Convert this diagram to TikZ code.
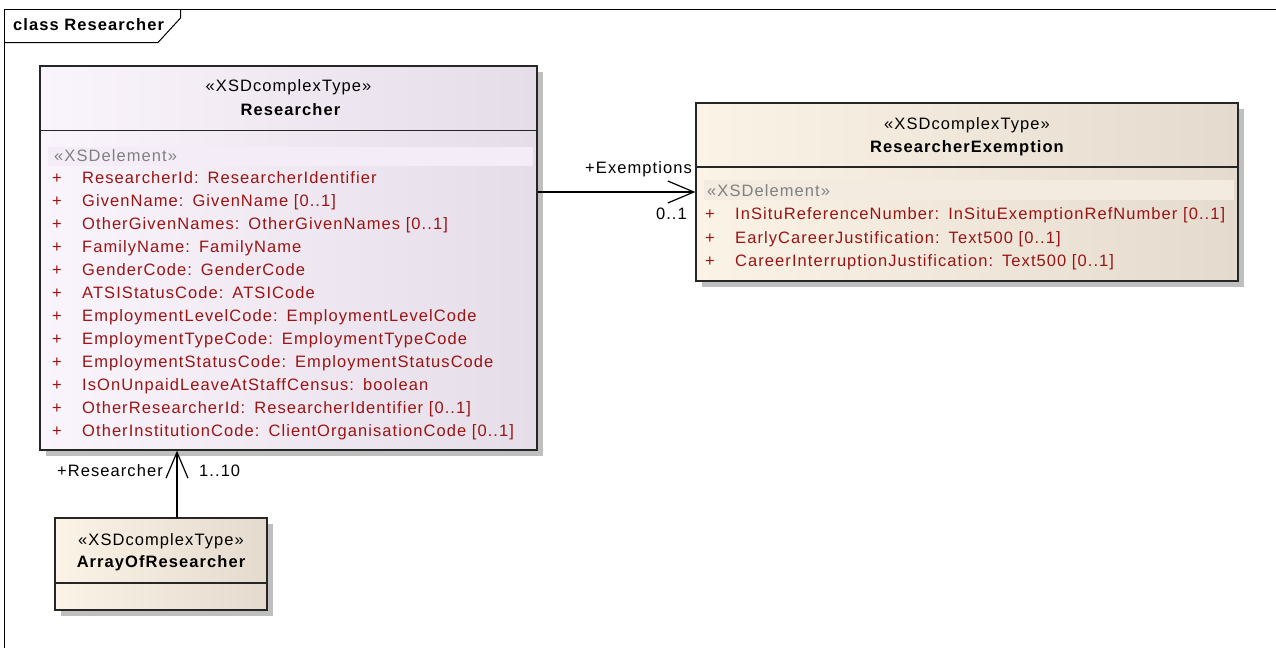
\documentclass[tikz,border=0pt]{standalone}
\usepackage{fontspec}
\setmainfont{Liberation Sans}[LetterSpace=6.5]
\usepackage{xcolor}
\usetikzlibrary{arrows.meta,shadows,positioning}
\definecolor{attrred}{HTML}{9A1414}
\definecolor{elemgray}{HTML}{808080}
\definecolor{resleft}{HTML}{FAF4FC}
\definecolor{resright}{HTML}{E5DDE8}
\definecolor{resband}{HTML}{F4EDF8}
\definecolor{exmleft}{HTML}{FBF3E6}
\definecolor{exmright}{HTML}{E4DBCE}
\definecolor{exmband}{HTML}{F3EBDF}
\tikzset{
	umlfont/.style={font=\fontsize{16.5}{19}\selectfont, text height=12pt, text depth=3.5pt},
	classbox/.style={draw=black!85, line width=1.3pt, inner sep=0pt,
			drop shadow={shadow xshift=6pt, shadow yshift=-6pt, opacity=1, fill=black!25}},
	restype/.style={classbox, left color=resleft, right color=resright},
	exmtype/.style={classbox, left color=exmleft, right color=exmright},
	stereo/.style={umlfont, inner sep=0pt},
	cname/.style={umlfont, inner sep=0pt, font=\fontsize{16.5}{19}\selectfont\bfseries},
	attr/.style={umlfont, anchor=west, inner sep=0pt, text=attrred},
	elem/.style={umlfont, anchor=west, inner sep=0pt, text=elemgray},
	role/.style={umlfont, inner sep=0pt},
	assoc/.style={line width=1.2pt, -{Straight Barb[length=26pt, width=22pt, line width=1.2pt]}}
}

\begin{document}
\begin{tikzpicture}[x=1pt, y=-1pt]
		\useasboundingbox (0,0) rectangle (1276,648);
		% Frame
		\draw[line width=1pt] (4.5,648) -- (4.5,9.5) -- (1276,9.5);
		\draw[line width=1pt] (4.5,42.5) -- (158,42.5) -- (180.5,18) -- (180.5,9.5);
		\node[cname, anchor=west] (title) at (13,26) {class Researcher};
		% Researcher
		\node[restype, minimum width=497pt, minimum height=384pt] (res) at (288.5,258) {};
		\draw[line width=1.3pt, black!85] (40,130.5) -- (537,130.5);
		\fill[resband] (48,147) rectangle (533,166);
		\node[stereo] (resst) at (288.5,87) {«XSDcomplexType»};
		\node[cname] (resnm) at (290.5,111) {Researcher};
		\node[elem] (resel) at (54,157) {«XSDelement»};
		\foreach \an/\at [count=\i] in {ResearcherId/ResearcherIdentifier, GivenName/GivenName [0..1],
				OtherGivenNames/OtherGivenNames [0..1], FamilyName/FamilyName, GenderCode/GenderCode,
				ATSIStatusCode/ATSICode, EmploymentLevelCode/EmploymentLevelCode,
				EmploymentTypeCode/EmploymentTypeCode, EmploymentStatusCode/EmploymentStatusCode,
				IsOnUnpaidLeaveAtStaffCensus/boolean, OtherResearcherId/ResearcherIdentifier [0..1],
				OtherInstitutionCode/ClientOrganisationCode [0..1]} {
				\node[attr] (rp\i) at (52,156+23*\i) {+};
				\node[attr] (ra\i) at (82,156+23*\i) {\an:\hspace{9pt}\at};
			}
		% ResearcherExemption
		\node[exmtype, minimum width=542pt, minimum height=178pt] (exm) at (967,192) {};
		\draw[line width=1.3pt, black!85] (696,167) -- (1238,167);
		\fill[exmband] (704,180) rectangle (1234,200);
		\node[stereo] (exmst) at (967,125) {«XSDcomplexType»};
		\node[cname] (exmnm) at (967,148) {ResearcherExemption};
		\node[elem] (exmel) at (707,192) {«XSDelement»};
		\foreach \an/\at [count=\i] in {InSituReferenceNumber/InSituExemptionRefNumber [0..1],
				EarlyCareerJustification/Text500 [0..1], CareerInterruptionJustification/Text500 [0..1]} {
				\node[attr] (ep\i) at (705,192+23.5*\i) {+};
				\node[attr] (ea\i) at (735,192+23.5*\i) {\an:\hspace{9pt}\at};
			}
		% ArrayOfResearcher
		\node[exmtype, minimum width=212pt, minimum height=92pt] (arr) at (161,564) {};
		\draw[line width=1.3pt, black!85] (55,583) -- (267,583);
		\node[stereo] (arrst) at (161,541) {«XSDcomplexType»};
		\node[cname] (arrnm) at (161,563) {ArrayOfResearcher};
		% Associations
		\draw[assoc] (res.east |- exm.west) -- (exm.west);
		\node[role, anchor=east] (exmrole) at (692,169) {+Exemptions};
		\node[role, anchor=east] (exmmult) at (687,215) {0..1};
		\coordinate (arrtop) at (177,518);
		\draw[assoc] (arrtop) -- (arrtop |- res.south);
		\node[role, anchor=east] (resrole) at (163,472) {+Researcher};
		\node[role, anchor=west] (resmult) at (199,472) {1..10};
	\end{tikzpicture}
\end{document}
